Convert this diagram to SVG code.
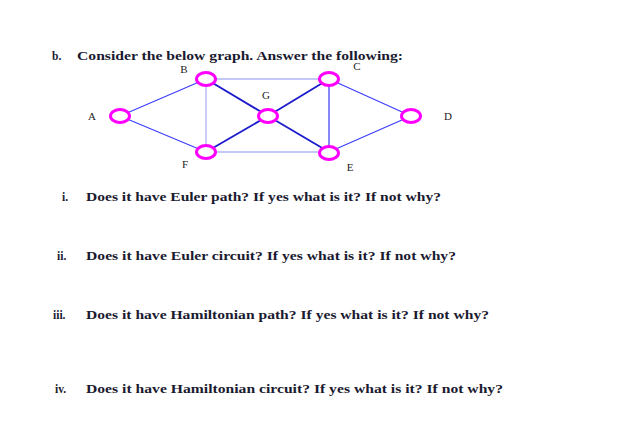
<svg xmlns="http://www.w3.org/2000/svg" width="617" height="423" viewBox="0 0 617 423">
<style>
.t{font-family:"Liberation Serif","Times New Roman",serif;font-weight:bold;font-size:11.5px;fill:#1a1a30}
.lb{font-family:"Liberation Serif","Times New Roman",serif;font-size:11px;fill:#222}
.n{fill:#fff;stroke:#ff00ff;stroke-width:3}
.e{stroke:#3b3bff;stroke-width:1.1;fill:none}
.ed{stroke:#1a1acc;stroke-width:1.8;fill:none}
.el{stroke:#b0b4f4;stroke-width:1.3;fill:none}
.em{stroke:#6a6af4;stroke-width:1.6;fill:none}
</style>
<rect width="617" height="423" fill="#fff"/>
<text class="t" x="52" y="60">b.</text>
<text class="t" x="77" y="60" textLength="326" lengthAdjust="spacingAndGlyphs">Consider the below graph. Answer the following:</text>
<g id="connectors">
<line class="e" x1="120" y1="116" x2="206" y2="79"/>
<line class="e" x1="120" y1="116" x2="206" y2="152"/>
<line class="el" x1="206" y1="79" x2="329" y2="79"/>
<line class="el" x1="206" y1="79" x2="206" y2="152"/>
<line class="el" x1="206" y1="152" x2="329" y2="152"/>
<line class="ed" x1="206" y1="79" x2="268" y2="116"/>
<line class="ed" x1="329" y1="79" x2="268" y2="116"/>
<line class="ed" x1="206" y1="152" x2="268" y2="116"/>
<line class="ed" x1="329" y1="152" x2="268" y2="116"/>
<line class="em" x1="329" y1="79" x2="329" y2="152"/>
<line class="e" x1="329" y1="79" x2="411" y2="116"/>
<line class="e" x1="329" y1="152" x2="411" y2="116"/>
</g>
<g id="node-A"><ellipse class="n" cx="120" cy="116" rx="9.5" ry="6.5"/><text class="lb" x="92" y="120" text-anchor="middle">A</text></g>
<g id="node-B"><ellipse class="n" cx="206" cy="79" rx="9.5" ry="6.5"/><text class="lb" x="184" y="73" text-anchor="middle">B</text></g>
<g id="node-C"><ellipse class="n" cx="329" cy="79" rx="9.5" ry="6.5"/><text class="lb" x="357" y="69.5" text-anchor="middle">C</text></g>
<g id="node-G"><ellipse class="n" cx="268" cy="116" rx="9.5" ry="6.5"/><text class="lb" x="266" y="99" text-anchor="middle">G</text></g>
<g id="node-D"><ellipse class="n" cx="411" cy="116" rx="9.5" ry="6.5"/><text class="lb" x="448" y="120" text-anchor="middle">D</text></g>
<g id="node-F"><ellipse class="n" cx="206" cy="152" rx="9.5" ry="6.5"/><text class="lb" x="185" y="168" text-anchor="middle">F</text></g>
<g id="node-E"><ellipse class="n" cx="329" cy="153" rx="9.5" ry="6.5"/><text class="lb" x="350" y="171" text-anchor="middle">E</text></g>
<text class="t" x="62" y="201">i.</text>
<text class="t" x="86" y="201" textLength="355" lengthAdjust="spacingAndGlyphs">Does it have Euler path? If yes what is it? If not why?</text>
<text class="t" x="57" y="260">ii.</text>
<text class="t" x="86" y="260" textLength="370" lengthAdjust="spacingAndGlyphs">Does it have Euler circuit? If yes what is it? If not why?</text>
<text class="t" x="53" y="319">iii.</text>
<text class="t" x="86" y="319" textLength="403" lengthAdjust="spacingAndGlyphs">Does it have Hamiltonian path? If yes what is it? If not why?</text>
<text class="t" x="55" y="393">iv.</text>
<text class="t" x="86" y="393" textLength="417" lengthAdjust="spacingAndGlyphs">Does it have Hamiltonian circuit? If yes what is it? If not why?</text>
</svg>
